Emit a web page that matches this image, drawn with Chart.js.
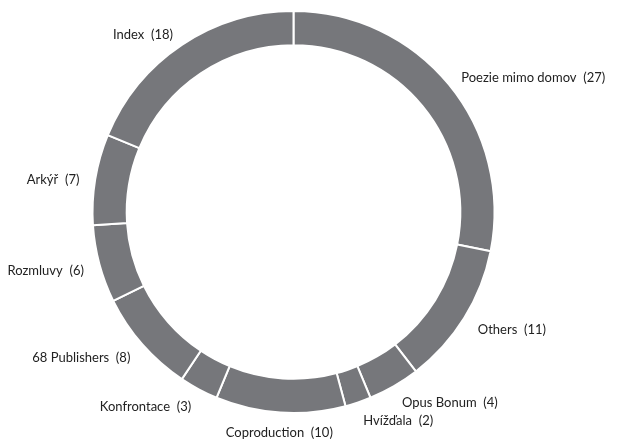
<!DOCTYPE html>
<html>
<head>
<meta charset="utf-8">
<script src="https://cdn.jsdelivr.net/npm/chart.js@4"></script>
<style>
    html, body { margin: 0; padding: 0; background: #fff; }
    #wrap { width: 621px; height: 440px; }
</style>
</head>
<body>
<div id="wrap"><canvas id="publishersChart"></canvas></div>
<script>
// Publishers, clockwise from the top
const publishers = ['Poezie mimo domov', 'Others', 'Opus Bonum', 'Hvížďala', 'Coproduction',
    'Konfrontace', '68 Publishers', 'Rozmluvy', 'Arkýř', 'Index'];
const bookCounts = [27, 11, 4, 2, 10, 3, 8, 6, 7, 18];

// Draw "Name  (n)" outside each slice
const outsideLabels = {
    id: 'outsideLabels',
    afterDatasetsDraw(chart) {
        const ctx = chart.ctx;
        const meta = chart.getDatasetMeta(0);
        ctx.save();
        ctx.font = '13px Lato, sans-serif';
        ctx.fillStyle = '#222222';
        meta.data.forEach(function(arc, i) {
            const p = arc.getProps(['x', 'y', 'startAngle', 'endAngle', 'outerRadius'], true);
            const mid = (p.startAngle + p.endAngle) / 2;
            const r = p.outerRadius + 16;
            const cx = Math.cos(mid), sy = Math.sin(mid);
            let x = p.x + cx * r;
            let y = p.y + sy * r;
            if (cx > 0.15) {
                ctx.textAlign = 'left';
                ctx.textBaseline = 'middle';
                y += 3;
            } else if (cx < -0.15) {
                ctx.textAlign = 'right';
                ctx.textBaseline = 'middle';
                y += 3;
            } else {
                ctx.textAlign = 'center';
                ctx.textBaseline = 'middle';
                y += sy > 0 ? 4 : -4;
            }
            ctx.fillText(`${publishers[i]}  (${bookCounts[i]})`, x, y);
        });
        ctx.restore();
    }
};

const ctx = document.getElementById('publishersChart').getContext('2d');
new Chart(ctx, {
    type: 'doughnut',
    data: {
        labels: publishers,
        datasets: [{
            data: bookCounts,
            backgroundColor: '#76777b',
            borderColor: '#ffffff',
            borderWidth: 2
        }]
    },
    options: {
        responsive: true,
        maintainAspectRatio: false,
        animation: false,
        cutout: '83%',
        layout: {
            padding: { top: 10, bottom: 26, left: 0, right: 34 }
        },
        plugins: {
            legend: { display: false },
            tooltip: { enabled: false }
        }
    },
    plugins: [outsideLabels]
});
</script>
</body>
</html>
